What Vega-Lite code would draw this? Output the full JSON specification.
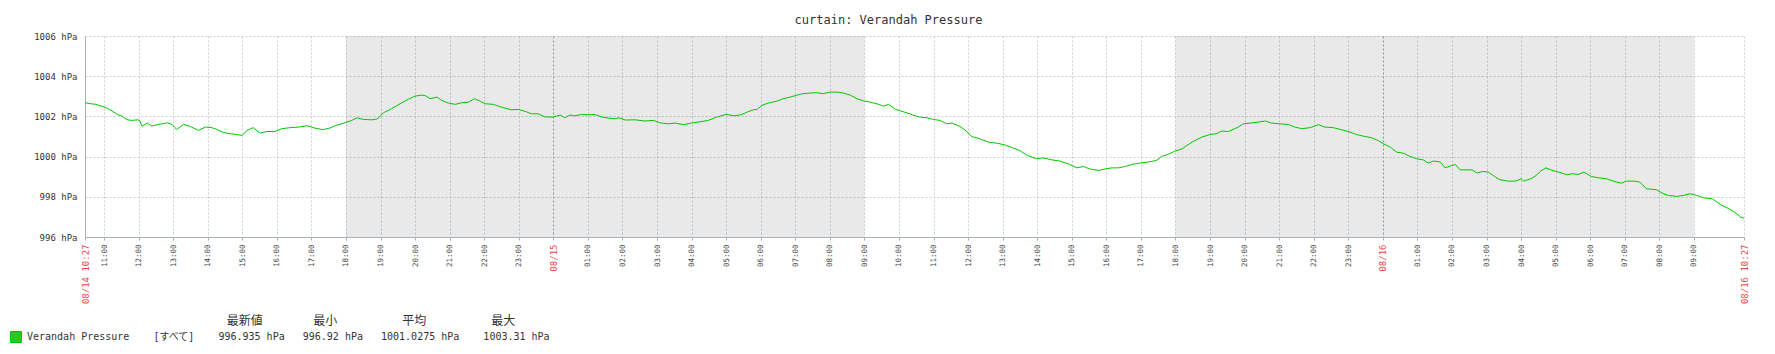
{
  "$schema": "https://vega.github.io/schema/vega-lite/v6.json",
  "width": 1659,
  "height": 201,
  "autosize": {"type": "none"},
  "padding": {"left": 85, "top": 36, "right": 31, "bottom": 117},
  "background": "#ffffff",
  "config": {"view": {"stroke": null}, "font": "DejaVu Sans Mono"},
  "title": {"text": "curtain: Verandah Pressure", "font": "DejaVu Sans Mono", "fontSize": 12, "fontWeight": "normal", "color": "#333333", "anchor": "middle", "dx": -26, "dy": 14, "offset": 10, "baseline": "alphabetic"},
  "datasets": {
    "bands": [
      {"s": "2024-08-14T18:00:00Z", "e": "2024-08-15T09:00:00Z"},
      {"s": "2024-08-15T18:00:00Z", "e": "2024-08-16T09:00:00Z"}
    ],
    "pressure": [
      {"t": "2024-08-14T10:27:00Z", "v": 1002.68},
      {"t": "2024-08-14T10:37:00Z", "v": 1002.63},
      {"t": "2024-08-14T10:46:00Z", "v": 1002.60},
      {"t": "2024-08-14T10:51:00Z", "v": 1002.55},
      {"t": "2024-08-14T10:57:00Z", "v": 1002.50},
      {"t": "2024-08-14T11:06:00Z", "v": 1002.40},
      {"t": "2024-08-14T11:14:00Z", "v": 1002.27},
      {"t": "2024-08-14T11:23:00Z", "v": 1002.10},
      {"t": "2024-08-14T11:32:00Z", "v": 1002.00},
      {"t": "2024-08-14T11:40:00Z", "v": 1001.83},
      {"t": "2024-08-14T11:49:00Z", "v": 1001.80},
      {"t": "2024-08-14T11:58:00Z", "v": 1001.83},
      {"t": "2024-08-14T12:02:00Z", "v": 1001.80},
      {"t": "2024-08-14T12:06:00Z", "v": 1001.50},
      {"t": "2024-08-14T12:15:00Z", "v": 1001.67},
      {"t": "2024-08-14T12:23:00Z", "v": 1001.52},
      {"t": "2024-08-14T12:32:00Z", "v": 1001.59},
      {"t": "2024-08-14T12:41:00Z", "v": 1001.63},
      {"t": "2024-08-14T12:50:00Z", "v": 1001.68},
      {"t": "2024-08-14T12:58:00Z", "v": 1001.60},
      {"t": "2024-08-14T13:06:00Z", "v": 1001.35},
      {"t": "2024-08-14T13:18:00Z", "v": 1001.60},
      {"t": "2024-08-14T13:30:00Z", "v": 1001.50},
      {"t": "2024-08-14T13:44:00Z", "v": 1001.30},
      {"t": "2024-08-14T13:56:00Z", "v": 1001.47},
      {"t": "2024-08-14T14:07:00Z", "v": 1001.44},
      {"t": "2024-08-14T14:16:00Z", "v": 1001.35},
      {"t": "2024-08-14T14:27:00Z", "v": 1001.20},
      {"t": "2024-08-14T14:39:00Z", "v": 1001.14},
      {"t": "2024-08-14T14:50:00Z", "v": 1001.10},
      {"t": "2024-08-14T15:00:00Z", "v": 1001.05},
      {"t": "2024-08-14T15:08:00Z", "v": 1001.30},
      {"t": "2024-08-14T15:19:00Z", "v": 1001.44},
      {"t": "2024-08-14T15:31:00Z", "v": 1001.17},
      {"t": "2024-08-14T15:43:00Z", "v": 1001.25},
      {"t": "2024-08-14T15:57:00Z", "v": 1001.25},
      {"t": "2024-08-14T16:09:00Z", "v": 1001.39},
      {"t": "2024-08-14T16:23:00Z", "v": 1001.44},
      {"t": "2024-08-14T16:38:00Z", "v": 1001.47},
      {"t": "2024-08-14T16:52:00Z", "v": 1001.54},
      {"t": "2024-08-14T17:06:00Z", "v": 1001.42},
      {"t": "2024-08-14T17:20:00Z", "v": 1001.34},
      {"t": "2024-08-14T17:32:00Z", "v": 1001.42},
      {"t": "2024-08-14T17:43:00Z", "v": 1001.55},
      {"t": "2024-08-14T18:00:00Z", "v": 1001.70},
      {"t": "2024-08-14T18:10:00Z", "v": 1001.80},
      {"t": "2024-08-14T18:19:00Z", "v": 1001.93},
      {"t": "2024-08-14T18:30:00Z", "v": 1001.85},
      {"t": "2024-08-14T18:45:00Z", "v": 1001.83},
      {"t": "2024-08-14T18:55:00Z", "v": 1001.88},
      {"t": "2024-08-14T19:05:00Z", "v": 1002.18},
      {"t": "2024-08-14T19:19:00Z", "v": 1002.38},
      {"t": "2024-08-14T19:34:00Z", "v": 1002.63},
      {"t": "2024-08-14T19:48:00Z", "v": 1002.85},
      {"t": "2024-08-14T20:00:00Z", "v": 1003.01},
      {"t": "2024-08-14T20:09:00Z", "v": 1003.05},
      {"t": "2024-08-14T20:17:00Z", "v": 1003.05},
      {"t": "2024-08-14T20:26:00Z", "v": 1002.88},
      {"t": "2024-08-14T20:38:00Z", "v": 1002.96},
      {"t": "2024-08-14T20:46:00Z", "v": 1002.80},
      {"t": "2024-08-14T20:58:00Z", "v": 1002.66},
      {"t": "2024-08-14T21:10:00Z", "v": 1002.60},
      {"t": "2024-08-14T21:21:00Z", "v": 1002.68},
      {"t": "2024-08-14T21:33:00Z", "v": 1002.71},
      {"t": "2024-08-14T21:43:00Z", "v": 1002.88},
      {"t": "2024-08-14T21:53:00Z", "v": 1002.76},
      {"t": "2024-08-14T22:01:00Z", "v": 1002.63},
      {"t": "2024-08-14T22:16:00Z", "v": 1002.60},
      {"t": "2024-08-14T22:30:00Z", "v": 1002.46},
      {"t": "2024-08-14T22:47:00Z", "v": 1002.33},
      {"t": "2024-08-14T22:59:00Z", "v": 1002.35},
      {"t": "2024-08-14T23:11:00Z", "v": 1002.25},
      {"t": "2024-08-14T23:22:00Z", "v": 1002.13},
      {"t": "2024-08-14T23:34:00Z", "v": 1002.13},
      {"t": "2024-08-14T23:46:00Z", "v": 1001.97},
      {"t": "2024-08-15T00:00:00Z", "v": 1001.97},
      {"t": "2024-08-15T00:12:00Z", "v": 1002.07},
      {"t": "2024-08-15T00:20:00Z", "v": 1001.93},
      {"t": "2024-08-15T00:29:00Z", "v": 1002.07},
      {"t": "2024-08-15T00:37:00Z", "v": 1002.03},
      {"t": "2024-08-15T00:49:00Z", "v": 1002.10},
      {"t": "2024-08-15T01:01:00Z", "v": 1002.08},
      {"t": "2024-08-15T01:12:00Z", "v": 1002.10},
      {"t": "2024-08-15T01:24:00Z", "v": 1001.97},
      {"t": "2024-08-15T01:35:00Z", "v": 1001.92},
      {"t": "2024-08-15T01:47:00Z", "v": 1001.88},
      {"t": "2024-08-15T01:54:00Z", "v": 1001.93},
      {"t": "2024-08-15T02:05:00Z", "v": 1001.82},
      {"t": "2024-08-15T02:22:00Z", "v": 1001.83},
      {"t": "2024-08-15T02:39:00Z", "v": 1001.77},
      {"t": "2024-08-15T02:54:00Z", "v": 1001.80},
      {"t": "2024-08-15T03:05:00Z", "v": 1001.68},
      {"t": "2024-08-15T03:20:00Z", "v": 1001.63},
      {"t": "2024-08-15T03:31:00Z", "v": 1001.67},
      {"t": "2024-08-15T03:46:00Z", "v": 1001.59},
      {"t": "2024-08-15T04:00:00Z", "v": 1001.67},
      {"t": "2024-08-15T04:14:00Z", "v": 1001.73},
      {"t": "2024-08-15T04:29:00Z", "v": 1001.80},
      {"t": "2024-08-15T04:40:00Z", "v": 1001.93},
      {"t": "2024-08-15T05:00:00Z", "v": 1002.10},
      {"t": "2024-08-15T05:14:00Z", "v": 1002.03},
      {"t": "2024-08-15T05:26:00Z", "v": 1002.08},
      {"t": "2024-08-15T05:37:00Z", "v": 1002.22},
      {"t": "2024-08-15T05:47:00Z", "v": 1002.33},
      {"t": "2024-08-15T05:54:00Z", "v": 1002.35},
      {"t": "2024-08-15T06:02:00Z", "v": 1002.55},
      {"t": "2024-08-15T06:13:00Z", "v": 1002.66},
      {"t": "2024-08-15T06:28:00Z", "v": 1002.76},
      {"t": "2024-08-15T06:39:00Z", "v": 1002.88},
      {"t": "2024-08-15T06:51:00Z", "v": 1002.96},
      {"t": "2024-08-15T07:02:00Z", "v": 1003.05},
      {"t": "2024-08-15T07:13:00Z", "v": 1003.13},
      {"t": "2024-08-15T07:25:00Z", "v": 1003.16},
      {"t": "2024-08-15T07:37:00Z", "v": 1003.18},
      {"t": "2024-08-15T07:48:00Z", "v": 1003.13},
      {"t": "2024-08-15T08:01:00Z", "v": 1003.21},
      {"t": "2024-08-15T08:13:00Z", "v": 1003.21},
      {"t": "2024-08-15T08:24:00Z", "v": 1003.16},
      {"t": "2024-08-15T08:36:00Z", "v": 1003.05},
      {"t": "2024-08-15T08:47:00Z", "v": 1002.88},
      {"t": "2024-08-15T09:00:00Z", "v": 1002.76},
      {"t": "2024-08-15T09:10:00Z", "v": 1002.71},
      {"t": "2024-08-15T09:25:00Z", "v": 1002.60},
      {"t": "2024-08-15T09:33:00Z", "v": 1002.51},
      {"t": "2024-08-15T09:42:00Z", "v": 1002.60},
      {"t": "2024-08-15T09:54:00Z", "v": 1002.35},
      {"t": "2024-08-15T10:09:00Z", "v": 1002.22},
      {"t": "2024-08-15T10:23:00Z", "v": 1002.08},
      {"t": "2024-08-15T10:35:00Z", "v": 1001.97},
      {"t": "2024-08-15T10:49:00Z", "v": 1001.93},
      {"t": "2024-08-15T11:00:00Z", "v": 1001.85},
      {"t": "2024-08-15T11:11:00Z", "v": 1001.80},
      {"t": "2024-08-15T11:23:00Z", "v": 1001.63},
      {"t": "2024-08-15T11:32:00Z", "v": 1001.67},
      {"t": "2024-08-15T11:46:00Z", "v": 1001.50},
      {"t": "2024-08-15T11:57:00Z", "v": 1001.27},
      {"t": "2024-08-15T12:06:00Z", "v": 1001.00},
      {"t": "2024-08-15T12:20:00Z", "v": 1000.89},
      {"t": "2024-08-15T12:35:00Z", "v": 1000.72},
      {"t": "2024-08-15T12:49:00Z", "v": 1000.67},
      {"t": "2024-08-15T13:03:00Z", "v": 1000.59},
      {"t": "2024-08-15T13:17:00Z", "v": 1000.44},
      {"t": "2024-08-15T13:29:00Z", "v": 1000.31},
      {"t": "2024-08-15T13:43:00Z", "v": 1000.06},
      {"t": "2024-08-15T13:59:00Z", "v": 999.89},
      {"t": "2024-08-15T14:10:00Z", "v": 999.94},
      {"t": "2024-08-15T14:25:00Z", "v": 999.84},
      {"t": "2024-08-15T14:39:00Z", "v": 999.78},
      {"t": "2024-08-15T14:54:00Z", "v": 999.64},
      {"t": "2024-08-15T15:09:00Z", "v": 999.44},
      {"t": "2024-08-15T15:20:00Z", "v": 999.51},
      {"t": "2024-08-15T15:31:00Z", "v": 999.39},
      {"t": "2024-08-15T15:47:00Z", "v": 999.31},
      {"t": "2024-08-15T15:58:00Z", "v": 999.39},
      {"t": "2024-08-15T16:10:00Z", "v": 999.44},
      {"t": "2024-08-15T16:21:00Z", "v": 999.44},
      {"t": "2024-08-15T16:33:00Z", "v": 999.51},
      {"t": "2024-08-15T16:44:00Z", "v": 999.61},
      {"t": "2024-08-15T16:59:00Z", "v": 999.68},
      {"t": "2024-08-15T17:13:00Z", "v": 999.73},
      {"t": "2024-08-15T17:27:00Z", "v": 999.81},
      {"t": "2024-08-15T17:36:00Z", "v": 1000.01},
      {"t": "2024-08-15T17:47:00Z", "v": 1000.11},
      {"t": "2024-08-15T17:59:00Z", "v": 1000.27},
      {"t": "2024-08-15T18:12:00Z", "v": 1000.39},
      {"t": "2024-08-15T18:20:00Z", "v": 1000.56},
      {"t": "2024-08-15T18:32:00Z", "v": 1000.77},
      {"t": "2024-08-15T18:46:00Z", "v": 1000.97},
      {"t": "2024-08-15T19:00:00Z", "v": 1001.10},
      {"t": "2024-08-15T19:12:00Z", "v": 1001.14},
      {"t": "2024-08-15T19:20:00Z", "v": 1001.27},
      {"t": "2024-08-15T19:32:00Z", "v": 1001.25},
      {"t": "2024-08-15T19:47:00Z", "v": 1001.44},
      {"t": "2024-08-15T19:58:00Z", "v": 1001.63},
      {"t": "2024-08-15T20:13:00Z", "v": 1001.68},
      {"t": "2024-08-15T20:24:00Z", "v": 1001.72},
      {"t": "2024-08-15T20:36:00Z", "v": 1001.77},
      {"t": "2024-08-15T20:47:00Z", "v": 1001.67},
      {"t": "2024-08-15T21:01:00Z", "v": 1001.63},
      {"t": "2024-08-15T21:16:00Z", "v": 1001.60},
      {"t": "2024-08-15T21:27:00Z", "v": 1001.47},
      {"t": "2024-08-15T21:39:00Z", "v": 1001.39},
      {"t": "2024-08-15T21:54:00Z", "v": 1001.44},
      {"t": "2024-08-15T22:08:00Z", "v": 1001.59},
      {"t": "2024-08-15T22:19:00Z", "v": 1001.47},
      {"t": "2024-08-15T22:34:00Z", "v": 1001.44},
      {"t": "2024-08-15T22:48:00Z", "v": 1001.34},
      {"t": "2024-08-15T23:03:00Z", "v": 1001.22},
      {"t": "2024-08-15T23:14:00Z", "v": 1001.10},
      {"t": "2024-08-15T23:29:00Z", "v": 1001.00},
      {"t": "2024-08-15T23:40:00Z", "v": 1000.94},
      {"t": "2024-08-15T23:52:00Z", "v": 1000.80},
      {"t": "2024-08-16T00:01:00Z", "v": 1000.64},
      {"t": "2024-08-16T00:13:00Z", "v": 1000.47},
      {"t": "2024-08-16T00:24:00Z", "v": 1000.22},
      {"t": "2024-08-16T00:36:00Z", "v": 1000.17},
      {"t": "2024-08-16T00:47:00Z", "v": 1000.01},
      {"t": "2024-08-16T00:59:00Z", "v": 999.89},
      {"t": "2024-08-16T01:10:00Z", "v": 999.84},
      {"t": "2024-08-16T01:19:00Z", "v": 999.68},
      {"t": "2024-08-16T01:28:00Z", "v": 999.78},
      {"t": "2024-08-16T01:40:00Z", "v": 999.73},
      {"t": "2024-08-16T01:48:00Z", "v": 999.44},
      {"t": "2024-08-16T02:00:00Z", "v": 999.56},
      {"t": "2024-08-16T02:06:00Z", "v": 999.61},
      {"t": "2024-08-16T02:14:00Z", "v": 999.34},
      {"t": "2024-08-16T02:23:00Z", "v": 999.34},
      {"t": "2024-08-16T02:35:00Z", "v": 999.34},
      {"t": "2024-08-16T02:44:00Z", "v": 999.18},
      {"t": "2024-08-16T02:53:00Z", "v": 999.26},
      {"t": "2024-08-16T03:03:00Z", "v": 999.23},
      {"t": "2024-08-16T03:14:00Z", "v": 999.01},
      {"t": "2024-08-16T03:23:00Z", "v": 998.85},
      {"t": "2024-08-16T03:37:00Z", "v": 998.78},
      {"t": "2024-08-16T03:51:00Z", "v": 998.78},
      {"t": "2024-08-16T04:00:00Z", "v": 998.90},
      {"t": "2024-08-16T04:05:00Z", "v": 998.78},
      {"t": "2024-08-16T04:17:00Z", "v": 998.90},
      {"t": "2024-08-16T04:26:00Z", "v": 999.06},
      {"t": "2024-08-16T04:34:00Z", "v": 999.28},
      {"t": "2024-08-16T04:43:00Z", "v": 999.44},
      {"t": "2024-08-16T04:52:00Z", "v": 999.34},
      {"t": "2024-08-16T05:05:00Z", "v": 999.23},
      {"t": "2024-08-16T05:19:00Z", "v": 999.10},
      {"t": "2024-08-16T05:30:00Z", "v": 999.15},
      {"t": "2024-08-16T05:39:00Z", "v": 999.11},
      {"t": "2024-08-16T05:49:00Z", "v": 999.23},
      {"t": "2024-08-16T06:02:00Z", "v": 999.01},
      {"t": "2024-08-16T06:13:00Z", "v": 998.95},
      {"t": "2024-08-16T06:28:00Z", "v": 998.90},
      {"t": "2024-08-16T06:40:00Z", "v": 998.78},
      {"t": "2024-08-16T06:54:00Z", "v": 998.68},
      {"t": "2024-08-16T07:03:00Z", "v": 998.78},
      {"t": "2024-08-16T07:17:00Z", "v": 998.78},
      {"t": "2024-08-16T07:26:00Z", "v": 998.73},
      {"t": "2024-08-16T07:38:00Z", "v": 998.40},
      {"t": "2024-08-16T07:55:00Z", "v": 998.35},
      {"t": "2024-08-16T08:07:00Z", "v": 998.15},
      {"t": "2024-08-16T08:16:00Z", "v": 998.07},
      {"t": "2024-08-16T08:30:00Z", "v": 998.02},
      {"t": "2024-08-16T08:42:00Z", "v": 998.07},
      {"t": "2024-08-16T08:53:00Z", "v": 998.15},
      {"t": "2024-08-16T09:05:00Z", "v": 998.07},
      {"t": "2024-08-16T09:17:00Z", "v": 997.95},
      {"t": "2024-08-16T09:32:00Z", "v": 997.90},
      {"t": "2024-08-16T09:46:00Z", "v": 997.62},
      {"t": "2024-08-16T10:01:00Z", "v": 997.40},
      {"t": "2024-08-16T10:13:00Z", "v": 997.19},
      {"t": "2024-08-16T10:21:00Z", "v": 996.99},
      {"t": "2024-08-16T10:27:00Z", "v": 996.94}
    ]
  },
  "layer": [
    {
      "data": {"name": "bands"},
      "mark": {"type": "rect", "color": "#000000", "opacity": 0.088},
      "encoding": {
        "x": {
          "field": "s", "type": "temporal",
          "scale": {"type": "utc", "domain": [1723631220000, 1723804020000], "nice": false},
          "axis": {
            "title": null,
            "tickCount": 200,
            "values": [1723631220000, 1723633200000, 1723636800000, 1723640400000, 1723644000000, 1723647600000, 1723651200000, 1723654800000, 1723658400000, 1723662000000, 1723665600000, 1723669200000, 1723672800000, 1723676400000, 1723680000000, 1723683600000, 1723687200000, 1723690800000, 1723694400000, 1723698000000, 1723701600000, 1723705200000, 1723708800000, 1723712400000, 1723716000000, 1723719600000, 1723723200000, 1723726800000, 1723730400000, 1723734000000, 1723737600000, 1723741200000, 1723744800000, 1723748400000, 1723752000000, 1723755600000, 1723759200000, 1723762800000, 1723766400000, 1723770000000, 1723773600000, 1723777200000, 1723780800000, 1723784400000, 1723788000000, 1723791600000, 1723795200000, 1723798800000, 1723804020000],
            "labelExpr": "utcminutes(datum.value) != 0 ? utcFormat(datum.value, '%m/%d %H:%M') : (utchours(datum.value) == 0 ? utcFormat(datum.value, '%m/%d') : utcFormat(datum.value, '%H:%M'))",
            "labelAngle": 270,
            "labelFont": "DejaVu Sans Mono",
            "labelFontSize": {"condition": {"test": "utcminutes(datum.value) != 0 || utchours(datum.value) == 0", "value": 9}, "value": 7.5},
            "labelColor": {"condition": {"test": "utcminutes(datum.value) != 0 || utchours(datum.value) == 0", "value": "#f04848"}, "value": "#444444"},
            "labelPadding": 4,
            "labelOverlap": false,
            "labelFlush": false,
            "ticks": true,
            "tickSize": 3,
            "tickColor": "#a9b1b8",
            "domainColor": "#a9b1b8",
            "grid": true,
            "gridColor": {"condition": {"test": "utchours(datum.value) == 0 && utcminutes(datum.value) == 0", "value": "#9aa4ab"}, "value": "#c8d0d6"},
            "gridDash": [2, 2]
          }
        },
        "x2": {"field": "e"}
      }
    },
    {
      "data": {"name": "pressure"},
      "mark": {"type": "line", "strokeWidth": 1, "interpolate": "linear"},
      "encoding": {
        "x": {"field": "t", "type": "temporal"},
        "y": {
          "field": "v", "type": "quantitative",
          "scale": {"domain": [996, 1006], "nice": false, "zero": false},
          "axis": {
            "title": null,
            "values": [996, 998, 1000, 1002, 1004, 1006],
            "labelExpr": "datum.value + ' hPa'",
            "labelFont": "DejaVu Sans Mono",
            "labelFontSize": 9,
            "labelColor": "#333333",
            "labelPadding": 8,
            "ticks": false,
            "domainColor": "#a9b1b8",
            "grid": true,
            "gridColor": "#c8d0d6",
            "gridDash": [2, 2]
          }
        },
        "color": {
          "datum": "Verandah Pressure",
          "type": "nominal",
          "scale": {"range": ["#00c800"]},
          "legend": {
            "orient": "none",
            "legendX": -75,
            "legendY": 280,
            "direction": "vertical",
            "padding": 0,
            "title": "\u200b\u00a0\u00a0\u00a0\u00a0\u00a0\u00a0\u00a0\u00a0\u00a0\u00a0\u00a0\u00a0\u00a0\u00a0\u00a0\u00a0\u00a0\u00a0\u00a0\u00a0\u00a0\u00a0\u00a0\u00a0\u00a0\u00a0\u00a0\u00a0\u00a0\u00a0最新値\u00a0\u00a0\u00a0\u00a0\u00a0\u00a0\u00a0最小\u00a0\u00a0\u00a0\u00a0\u00a0\u00a0\u00a0\u00a0\u00a0平均\u00a0\u00a0\u00a0\u00a0\u00a0\u00a0\u00a0\u00a0\u00a0最大",
            "titleFont": "DejaVu Sans Mono, Noto Sans CJK JP",
            "titleFontSize": 12,
            "titleFontWeight": "normal",
            "titleColor": "#333333",
            "titleLimit": 2000,
            "titlePadding": 3,
            "labelExpr": "datum.label + '\u00a0\u00a0\u00a0\u00a0[すべて]\u00a0\u00a0\u00a0\u00a0996.935 hPa\u00a0\u00a0\u00a0996.92 hPa\u00a0\u00a0\u00a01001.0275 hPa\u00a0\u00a0\u00a0\u00a01003.31 hPa'",
            "labelFont": "DejaVu Sans Mono, Noto Sans CJK JP",
            "labelFontSize": 10,
            "labelColor": "#333333",
            "labelLimit": 2000,
            "labelOffset": 5,
            "symbolType": "square",
            "symbolSize": 121,
            "symbolStrokeWidth": 1,
            "symbolStrokeColor": "#1a1a1a",
            "symbolFillColor": "#22cc22",
            "encode": {
              "symbols": {"update": {"fill": {"value": "#22cc22"}, "stroke": {"value": "#1a1a1a"}, "strokeWidth": {"value": 1}, "shape": {"value": "square"}, "size": {"value": 121}, "opacity": {"value": 1}}}
            }
          }
        }
      }
    }
  ]
}
